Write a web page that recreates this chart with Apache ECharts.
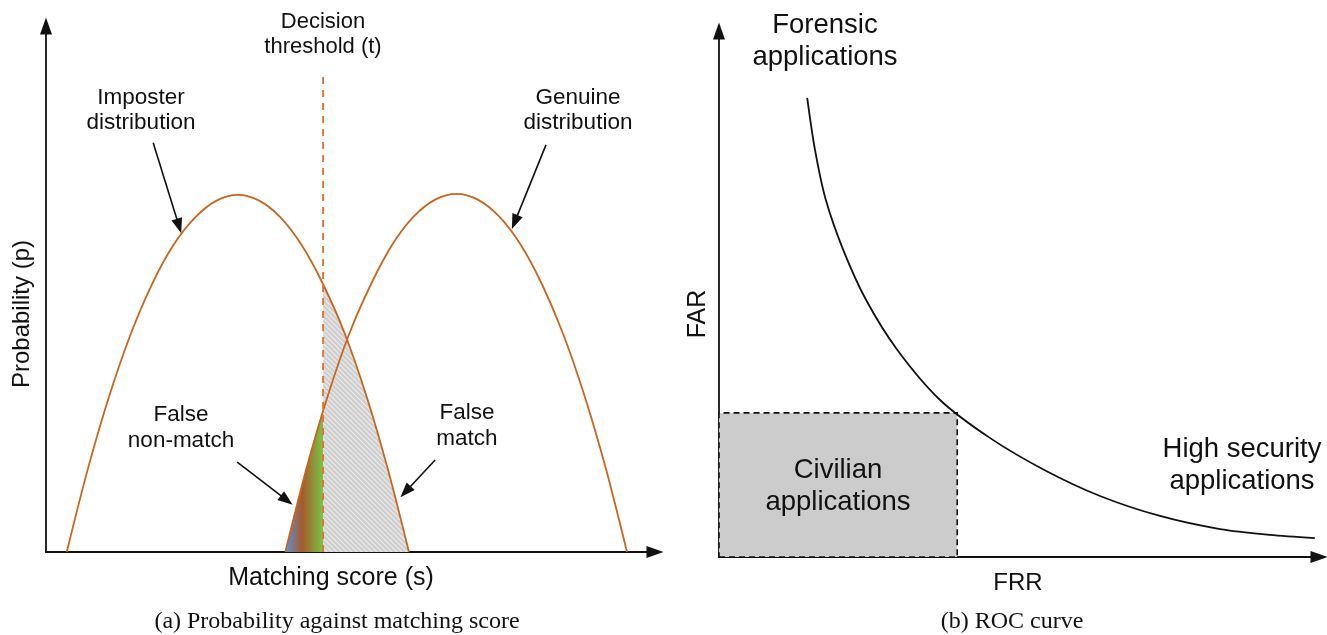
<!DOCTYPE html>
<html>
<head>
<meta charset="utf-8">
<script src="https://cdn.jsdelivr.net/npm/echarts@6/dist/echarts.min.js"></script>
<style>
html, body { margin: 0; padding: 0; background: #fff; }
#main { width: 1327px; height: 635px; }
</style>
</head>
<body>
<div id="main"></div>
<script>
// (a) score distributions: [matching score, probability]
var imposter_data = [[3.4, 0], [6.9, 0.159], [10.4, 0.297], [13.9, 0.414], [17.4, 0.509], [20.9, 0.583], [24.5, 0.636], [28.0, 0.668], [31.5, 0.679], [35.0, 0.668], [38.5, 0.636], [42.0, 0.583], [45.5, 0.509], [49.1, 0.414], [52.6, 0.297], [56.1, 0.159], [59.6, 0]];
var genuine_data = [[39.3, 0], [42.8, 0.160], [46.3, 0.298], [49.8, 0.415], [53.4, 0.510], [56.9, 0.585], [60.4, 0.638], [63.9, 0.670], [67.4, 0.681], [70.9, 0.670], [74.4, 0.638], [77.9, 0.585], [81.4, 0.510], [84.9, 0.415], [88.4, 0.298], [91.9, 0.160], [95.4, 0]];
var false_nonmatch_data = [[39.3, 0], [41.1, 0.085], [42.8, 0.160], [44.2, 0.216], [45.5, 0.267]];
var false_match_data = [[45.5, 0.509], [49.1, 0.414], [52.6, 0.297], [56.1, 0.159], [59.6, 0]];
var threshold_data = [[45.5, 0], [45.5, 0.911]];
// annotation arrows [from, tip]
var arrow_data = [
	[[17.6, 0.778], [22.2, 0.606]],
	[[82.1, 0.774], [76.5, 0.614]],
	[[31.4, 0.171], [40.5, 0.090]],
	[[63.9, 0.175], [58.2, 0.104]]
];

// (b) ROC curve: [FRR, FAR]
var roc_data = [[14.7, 87.3], [16.0, 77.4], [17.8, 67.9], [20.7, 58.4], [24.5, 48.9], [29.7, 39.4], [36.8, 29.9], [45.2, 22.6], [54.3, 16.5], [63.5, 11.6], [73.5, 7.8], [83.5, 5.3], [91.8, 4.2], [99.3, 3.6]];
var civilian_box = [[0, 0], [39.7, 27.4]];

var curve_color = '#c9651c';
var head_len = 15;
var sans = '"Liberation Sans", Arial, sans-serif';
var serif = '"Liberation Serif", "Times New Roman", serif';

// hatch pattern for the false match area
function makeHatch() {
	var c = document.createElement('canvas');
	c.width = 5;
	c.height = 5;
	var ctx = c.getContext('2d');
	ctx.fillStyle = '#cfcfcf';
	ctx.fillRect(0, 0, 5, 5);
	ctx.strokeStyle = '#ececec';
	ctx.lineWidth = 1.2;
	ctx.beginPath();
	ctx.moveTo(-5, 0); ctx.lineTo(5, 10);
	ctx.moveTo(0, 0); ctx.lineTo(5, 5);
	ctx.moveTo(0, -5); ctx.lineTo(10, 5);
	ctx.moveTo(-5, -5); ctx.lineTo(5, 5);
	ctx.stroke();
	return c;
}

function axisStyle() {
	return {
		show: true,
		symbol: ['none', 'triangle'],
		symbolSize: [12, 17],
		lineStyle: { color: '#111', width: 1.8 }
	};
}

function valueAxis(grid, max) {
	return {
		type: 'value', gridIndex: grid, min: 0, max: max,
		axisLine: axisStyle(), axisTick: { show: false },
		axisLabel: { show: false }, splitLine: { show: false }
	};
}

function label(text, x, y, size, opt) {
	opt = opt || {};
	return {
		type: 'text', x: x, y: y, rotation: opt.rotation || 0, z: 100,
		style: {
			text: text, fill: '#111',
			font: size + 'px ' + (opt.family || sans),
			align: 'center', verticalAlign: 'middle',
			textAlign: 'center', textVerticalAlign: 'middle',
			lineHeight: opt.lineHeight || size
		}
	};
}

var chart = echarts.init(document.getElementById('main'));

var option = {
	animation: false,
	backgroundColor: '#fff',
	grid: [
		{ left: 46, top: 26, width: 609, height: 526 },
		{ left: 719, top: 31, width: 600, height: 526 }
	],
	xAxis: [valueAxis(0, 100), valueAxis(1, 100)],
	yAxis: [valueAxis(0, 1), valueAxis(1, 100)],
	series: [
		{
			name: 'false non-match', type: 'line', xAxisIndex: 0, yAxisIndex: 0,
			data: false_nonmatch_data, smooth: 0.3, symbol: 'none', z: 1,
			lineStyle: { width: 0 },
			areaStyle: {
				opacity: 1,
				color: new echarts.graphic.LinearGradient(0, 0, 1, 0, [
					{ offset: 0, color: '#5b93d9' },
					{ offset: 0.45, color: '#a8592b' },
					{ offset: 1, color: '#79c545' }
				])
			}
		},
		{
			name: 'false match', type: 'line', xAxisIndex: 0, yAxisIndex: 0,
			data: false_match_data, smooth: 0.3, symbol: 'none', z: 1,
			lineStyle: { width: 0 },
			areaStyle: { opacity: 1, color: { image: makeHatch(), repeat: 'repeat' } }
		},
		{
			name: 'imposter', type: 'line', xAxisIndex: 0, yAxisIndex: 0,
			data: imposter_data, smooth: 0.3, symbol: 'none', z: 3,
			lineStyle: { color: curve_color, width: 1.8 },
			markLine: {
				silent: true, symbol: ['none', 'triangle'], symbolSize: [11, head_len],
				label: { show: false },
				lineStyle: { color: '#111', width: 1.6, type: 'solid' },
				data: []
			}
		},
		{
			name: 'genuine', type: 'line', xAxisIndex: 0, yAxisIndex: 0,
			data: genuine_data, smooth: 0.3, symbol: 'none', z: 3,
			lineStyle: { color: curve_color, width: 1.8 }
		},
		{
			name: 'threshold', type: 'line', xAxisIndex: 0, yAxisIndex: 0,
			data: threshold_data, symbol: 'none', z: 4,
			lineStyle: { color: '#dc7630', width: 1.9, type: [7, 6] }
		},
		{
			name: 'ROC', type: 'line', xAxisIndex: 1, yAxisIndex: 1,
			data: roc_data, smooth: 0.3, symbol: 'none', z: 3,
			lineStyle: { color: '#111', width: 1.8 },
			markArea: {
				silent: true,
				itemStyle: { color: '#cccccc', opacity: 1, borderColor: '#111', borderWidth: 1.6, borderType: [6, 4] },
				data: [[{ coord: civilian_box[0] }, { coord: civilian_box[1] }]]
			}
		}
	],
	graphic: [
		label('Decision\nthreshold (t)', 323, 34, 22, { lineHeight: 25 }),
		label('Imposter\ndistribution', 141, 110, 22.5, { lineHeight: 25 }),
		label('Genuine\ndistribution', 578, 110, 22.5, { lineHeight: 25 }),
		label('False\nnon-match', 181, 428, 22.5, { lineHeight: 26 }),
		label('False\nmatch', 467, 426, 22.5, { lineHeight: 26 }),
		label('Matching score (s)', 331, 578, 25),
		label('Probability (p)', 22, 314, 24, { rotation: Math.PI / 2 }),
		label('(a) Probability against matching score', 337, 622, 24, { family: serif }),
		label('Forensic\napplications', 825, 41, 27.5, { lineHeight: 32 }),
		label('Civilian\napplications', 838, 486, 27.5, { lineHeight: 32 }),
		label('High security\napplications', 1242, 465, 27.5, { lineHeight: 32 }),
		label('FAR', 698, 314, 25, { rotation: Math.PI / 2 }),
		label('FRR', 1018, 583, 24),
		label('(b) ROC curve', 1012, 622, 24, { family: serif })
	]
};
chart.setOption(option);

// the triangle head is centred on the line end, so pull each end back by half the head
var arrows = arrow_data.map(function (a) {
	var p0 = chart.convertToPixel({ gridIndex: 0 }, a[0]);
	var p1 = chart.convertToPixel({ gridIndex: 0 }, a[1]);
	var dx = p1[0] - p0[0], dy = p1[1] - p0[1];
	var len = Math.sqrt(dx * dx + dy * dy);
	var back = head_len / 2;
	var end = chart.convertFromPixel({ gridIndex: 0 }, [p1[0] - dx / len * back, p1[1] - dy / len * back]);
	return [{ coord: a[0] }, { coord: end }];
});
chart.setOption({ series: [{}, {}, { markLine: { data: arrows } }] });
</script>
</body>
</html>
